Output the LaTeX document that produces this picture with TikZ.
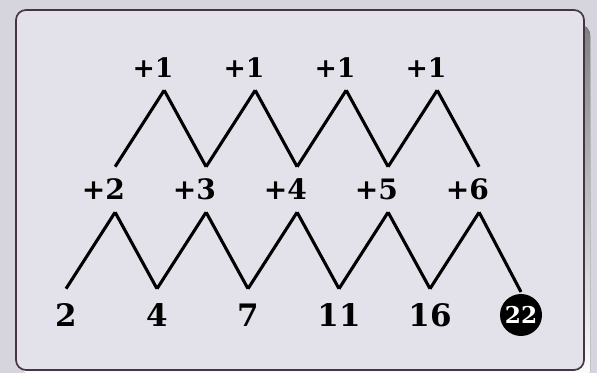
\documentclass[tikz,border=0pt]{standalone}
\usepackage{fontspec}
\newfontfamily\digitfont{DejaVu Serif}
\definecolor{paper}{RGB}{214,213,221}
\definecolor{card}{RGB}{227,226,234}
\definecolor{rim}{RGB}{70,54,68}
\definecolor{shade}{RGB}{128,116,130}
\begin{document}
\begin{tikzpicture}[
    num/.style={font=\digitfont\fontsize{22}{26}\selectfont\bfseries, inner sep=0pt, text height=0.95cm, text depth=0pt, anchor=base},
    diff/.style={font=\digitfont\fontsize{20}{24}\selectfont\bfseries, inner sep=0pt, text height=0.825cm, text depth=0.3cm, anchor=base},
    topdiff/.style={font=\digitfont\fontsize{19}{23}\selectfont\bfseries, inner sep=0pt, text height=0.35cm, text depth=0.3cm, anchor=base},
    answer/.style={circle, fill=black, text=white, font=\digitfont\fontsize{16.5}{20}\selectfont\bfseries, inner sep=0pt, minimum size=1.05cm, outer sep=0.05cm},
    link/.style={line width=2.2pt}
]
    \useasboundingbox (0, 0) rectangle (14.925, 9.325);
    \fill[paper] (0, 0) rectangle (14.925, 9.325);
    % card with its shadow
    \fill[shade, rounded corners=0.25cm] (0.6, -0.2) rectangle (14.75, 8.7);
    \draw[rim, fill=card, line width=1.2pt, rounded corners=0.25cm] (0.4, 0.075) rectangle (14.6, 9.075);

    % the sequence
    \foreach \v [count=\i] in {2,4,7,11,16}
        \node[num] (b\i) at ({1.65+2.275*(\i-1)}, 1.15) {\v};
    \node[answer] (b6) at (13.025, 1.45) {22};

    % first differences
    \foreach \v [count=\i] in {2,...,6}
        \node[diff] (m\i) at ({2.8775+2.275*(\i-1)}, 4.325) {\llap{+}\v};

    % second differences
    \foreach \i in {1,...,4}
        \node[topdiff] (t\i) at ({4.105+2.275*(\i-1)}, 7.375) {\llap{+}1};

    \foreach \i in {1,...,5} {
        \pgfmathtruncatemacro\j{\i+1}
        \draw[link] (b\i.north) -- (m\i.south);
        \draw[link] (m\i.south) -- (b\j.north);
    }
    \foreach \i in {1,...,4} {
        \pgfmathtruncatemacro\j{\i+1}
        \draw[link] (m\i.north) -- (t\i.south);
        \draw[link] (t\i.south) -- (m\j.north);
    }
\end{tikzpicture}
\end{document}
